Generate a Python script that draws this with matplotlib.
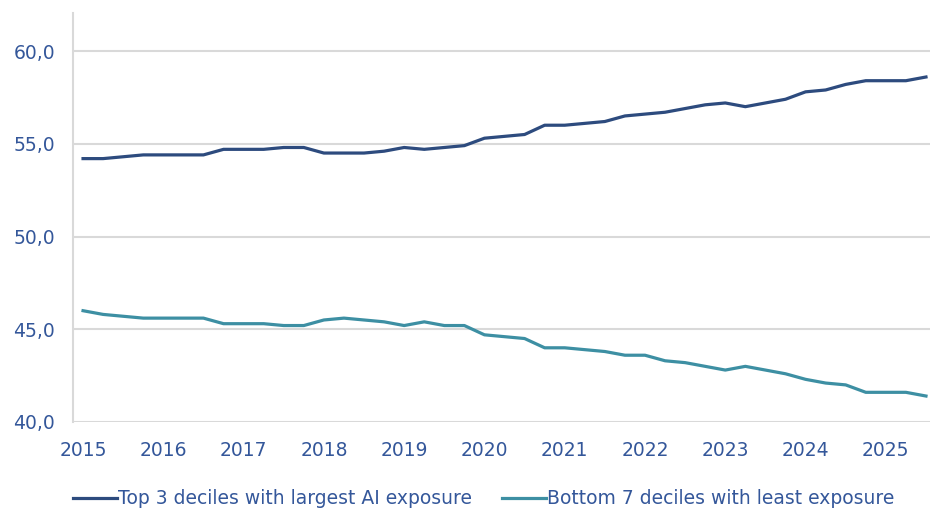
import matplotlib
matplotlib.use("Agg")
import matplotlib.pyplot as plt

# quarterly series, 2015Q1 .. 2025Q3
top3 = [54.2, 54.2, 54.3, 54.4, 54.4, 54.4, 54.4, 54.7, 54.7, 54.7,
        54.8, 54.8, 54.5, 54.5, 54.5, 54.6, 54.8, 54.7, 54.8, 54.9,
        55.3, 55.4, 55.5, 56.0, 56.0, 56.1, 56.2, 56.5, 56.6, 56.7,
        56.9, 57.1, 57.2, 57.0, 57.2, 57.4, 57.8, 57.9, 58.2, 58.4,
        58.4, 58.4, 58.6]
bottom7 = [46.0, 45.8, 45.7, 45.6, 45.6, 45.6, 45.6, 45.3, 45.3, 45.3,
           45.2, 45.2, 45.5, 45.6, 45.5, 45.4, 45.2, 45.4, 45.2, 45.2,
           44.7, 44.6, 44.5, 44.0, 44.0, 43.9, 43.8, 43.6, 43.6, 43.3,
           43.2, 43.0, 42.8, 43.0, 42.8, 42.6, 42.3, 42.1, 42.0, 41.6,
           41.6, 41.6, 41.4]
years = list(range(2015, 2026))
y_ticks = [40, 45, 50, 55, 60]
y_tick_labels = ["40,0", "45,0", "50,0", "55,0", "60,0"]
labels = ["Top 3 deciles with largest AI exposure",
          "Bottom 7 deciles with least exposure"]

NAVY = "#2D4B7E"
TEAL = "#3D8FA3"
TXT = "#34579A"
GRID = "#D9D9D9"

x = [2015 + i / 4 for i in range(len(top3))]

fig = plt.figure(figsize=(9.3, 5.08), dpi=100)
ax = fig.add_axes([0.0785, 0.1693, 0.9215, 0.8051])

ax.plot(x, top3, color=NAVY, linewidth=2.3, label=labels[0])
ax.plot(x, bottom7, color=TEAL, linewidth=2.3, label=labels[1])

ax.set_xlim(2015 - 0.125, 2015 + 42.2 / 4)
ax.set_ylim(40, 62.05)
ax.set_yticks(y_ticks)
ax.set_yticklabels(y_tick_labels)
ax.set_xticks(years)
ax.set_xticklabels([str(y) for y in years])

ax.grid(axis="y", color=GRID, linewidth=1.5)
ax.set_axisbelow(True)
for s in ["top", "right", "bottom"]:
    ax.spines[s].set_visible(False)
ax.spines["left"].set_color(GRID)
ax.spines["left"].set_linewidth(1.5)

ax.tick_params(axis="both", length=0, labelsize=13.5, labelcolor=TXT)
ax.tick_params(axis="y", pad=13)
ax.tick_params(axis="x", pad=14)

fig.legend(loc="lower left", bbox_to_anchor=(0.060, -0.034), ncol=2,
           frameon=False, fontsize=13.5, handlelength=2.35,
           handletextpad=0.05, columnspacing=1.6, labelcolor=TXT)

fig.savefig("out.png", dpi=100)
